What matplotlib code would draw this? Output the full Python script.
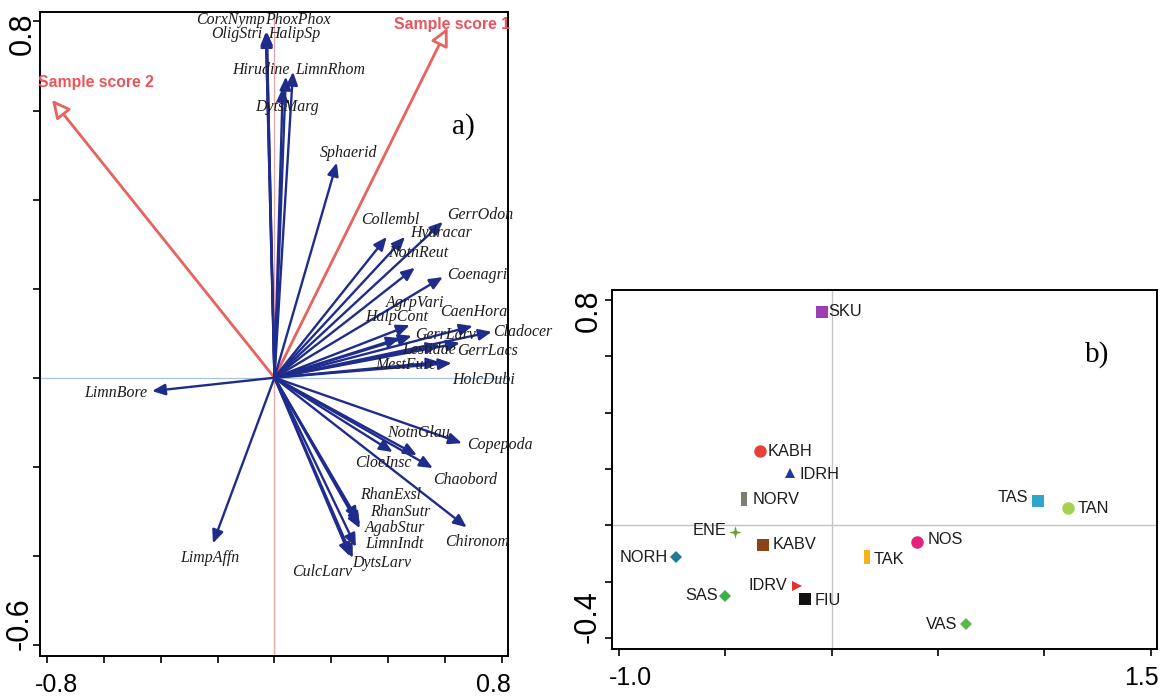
import matplotlib
matplotlib.use("Agg")
import matplotlib.pyplot as plt
from matplotlib.path import Path

# ---------------- data: panel a (species scores, sample-score axes) ----------------
species = ["CorxNymp", "PhoxPhox", "OligStri", "HalipSp", "Hirudine", "LimnRhom",
           "DytsMarg", "Sphaerid", "Collembl", "Hydracar", "GerrOdon", "NotnReut",
           "Coenagri", "AgrpVari", "HalpCont", "GerrLarv", "CaenHora", "Cladocer",
           "Lestidae", "GerrLacs", "MestFurc", "HolcDubi", "LimnBore", "LimpAffn",
           "Copepoda", "NotnGlau", "CloeInsc", "Chaobord", "Chironom", "RhanExsl",
           "RhanSutr", "AgabStur", "LimnIndt", "DytsLarv", "CulcLarv"]
axis1 = [-0.030, -0.027, -0.030, -0.027, 0.040, 0.065,
         0.029, 0.219, 0.394, 0.458, 0.591, 0.493,
         0.591, 0.475, 0.440, 0.482, 0.696, 0.763,
         0.580, 0.651, 0.580, 0.622, -0.430, -0.216,
         0.658, 0.500, 0.415, 0.556, 0.675, 0.293,
         0.300, 0.300, 0.286, 0.275, 0.265]
axis2 = [0.777, 0.777, 0.772, 0.772, 0.676, 0.687,
         0.651, 0.483, 0.316, 0.316, 0.350, 0.247,
         0.226, 0.118, 0.089, 0.094, 0.116, 0.103,
         0.073, 0.078, 0.035, 0.033, -0.030, -0.372,
         -0.147, -0.174, -0.167, -0.203, -0.336, -0.320,
         -0.331, -0.338, -0.380, -0.405, -0.401]

score_names = ["Sample score 1", "Sample score 2"]
score_x = [0.608, -0.781]
score_y = [0.786, 0.624]

# ---------------- data: panel b (site scores) ----------------
sites = ["SKU", "KABH", "IDRH", "NORV", "ENE", "KABV", "NORH", "SAS",
         "IDRV", "FIU", "TAK", "NOS", "TAS", "TAN", "VAS"]
site_x = [-0.047, -0.337, -0.196, -0.411, -0.455, -0.324, -0.732, -0.502,
          -0.165, -0.126, 0.165, 0.402, 0.971, 1.112, 0.631]
site_y = [0.758, 0.264, 0.186, 0.093, -0.022, -0.069, -0.113, -0.250,
          -0.215, -0.262, -0.113, -0.057, 0.088, 0.061, -0.350]

# ---------------- label placement (pixel offsets from arrow tip / marker) ----------------
species_label_offset = {
    "CorxNymp": (-1, 12, "right"), "PhoxPhox": (-2, 12, "left"),
    "OligStri": (-4, 0, "right"), "HalipSp": (1, 0, "left"),
    "Hirudine": (4, 7, "right"), "LimnRhom": (2, 2, "left"),
    "DytsMarg": (4, -19, "center"), "Sphaerid": (12, 10, "center"),
    "Collembl": (4, 17, "center"), "Hydracar": (5, 4, "left"),
    "GerrOdon": (4, 7, "left"), "NotnReut": (3, 15, "center"),
    "Coenagri": (4, 2, "left"), "AgrpVari": (5, 22, "center"),
    "HalpCont": (-3, 21, "center"), "GerrLarv": (3, 1, "left"),
    "CaenHora": (1, 14, "center"), "Cladocer": (1, 0, "left"),
    "Lestidae": (-11, -5, "center"), "GerrLacs": (-3, -8, "left"),
    "MestFurc": (-3, -3, "right"), "HolcDubi": (1, -17, "left"),
    "LimnBore": (-5, -2, "right"), "LimpAffn": (-3, -15, "center"),
    "Copepoda": (5, -2, "left"), "NotnGlau": (2, 22, "center"),
    "CloeInsc": (-9, -11, "center"), "Chaobord": (0, -12, "left"),
    "Chironom": (10, -15, "center"), "RhanExsl": (2, 25, "left"),
    "RhanSutr": (10, 13, "left"), "AgabStur": (5, 0, "left"),
    "LimnIndt": (9, 3, "left"), "DytsLarv": (-1, -5, "left"),
    "CulcLarv": (2, -16, "right"),
}
score_label_offset = [(4, 3), (44, 17)]

site_label_offset = {
    "SKU": (7, 0, "left"), "KABH": (8, 0, "left"), "IDRH": (10, -1, "left"),
    "NORV": (8, 0, "left"), "ENE": (-8, 1, "right"), "KABV": (10, 0, "left"),
    "NORH": (-8, 0, "right"), "SAS": (-7, 0, "right"), "IDRV": (-9, 1, "right"),
    "FIU": (10, -1, "left"), "TAK": (7, -2, "left"), "NOS": (10, 2, "left"),
    "TAS": (-10, 3, "right"), "TAN": (9, 0, "left"), "VAS": (-9, 0, "right"),
}

# marker shapes for the sites
bar = Path([(-0.2, -0.5), (0.2, -0.5), (0.2, 0.5), (-0.2, 0.5), (-0.2, -0.5)])
star4 = Path([(0, 1), (0.22, 0.22), (1, 0), (0.22, -0.22), (0, -1),
              (-0.22, -0.22), (-1, 0), (-0.22, 0.22), (0, 1)])
site_style = {
    "SKU": ("s", "#9b3db3", 8), "KABH": ("o", "#e8403a", 9),
    "IDRH": ("^", "#1f3b95", 7.5), "NORV": (bar, "#7d7d72", 10),
    "ENE": (star4, "#6b9a3a", 9), "KABV": ("s", "#8b4318", 8),
    "NORH": ("D", "#1f7a94", 6.2), "SAS": ("D", "#39b04a", 6.2),
    "IDRV": (">", "#e8302f", 7.5), "FIU": ("s", "#111111", 8),
    "TAK": (bar, "#f5b21b", 10), "NOS": ("o", "#e8207a", 9),
    "TAS": ("s", "#2ea6cc", 8), "TAN": ("o", "#a8d14a", 9),
    "VAS": ("D", "#5cb84a", 6.2),
}

W, H = 1167, 698
fig = plt.figure(figsize=(W / 100, H / 100), dpi=100)
fig.patch.set_facecolor("white")

tick_font = ["Liberation Sans", "DejaVu Sans"]
serif_font = ["Liberation Serif", "DejaVu Serif"]

ax_a = fig.add_axes([39.5 / W, 42 / H, 468.5 / W, 644.3 / H])
ax_b = fig.add_axes([611.7 / W, 48.7 / H, 545 / W, 359.3 / H])


def style_axes(ax, xticks, yticks):
    ax.set_xticks(xticks)
    ax.set_yticks(yticks)
    ax.tick_params(direction="out", length=5, width=1.2, color="black",
                   labelbottom=False, labelleft=False)
    for s in ax.spines.values():
        s.set_linewidth(1.4)
        s.set_color("black")


def x_end_label(ax, text, val, shift):
    ax.annotate(text, xy=(val, 0), xycoords=("data", "axes fraction"),
                xytext=(shift, -29), textcoords="offset pixels",
                ha="center", va="center", fontsize=18, family=tick_font)


def y_end_label(ax, text, val, dx, shift):
    ax.annotate(text, xy=(0, val), xycoords=("axes fraction", "data"),
                xytext=(dx, shift), textcoords="offset pixels", rotation=90,
                ha="center", va="center", fontsize=22, family=tick_font)


# ---------------- panel a ----------------
ax_a.set_xlim(-0.825, 0.82)
ax_a.set_ylim(-0.625, 0.822)
style_axes(ax_a, [-0.8, -0.6, -0.4, -0.2, 0.0, 0.2, 0.4, 0.6, 0.8],
           [-0.6, -0.4, -0.2, 0.0, 0.2, 0.4, 0.6, 0.8])
ax_a.axvline(0, color="#eaa3a3", lw=0.9, zorder=1)
ax_a.axhline(0, color="#a9c4df", lw=0.9, zorder=1)

for name, sx, sy, (dx, dy) in zip(score_names, score_x, score_y, score_label_offset):
    ax_a.annotate("", xy=(sx, sy), xytext=(0, 0),
                  arrowprops=dict(arrowstyle="-|>,head_length=0.9,head_width=0.45",
                                  mutation_scale=12, lw=2, ec="#e8625f", fc="white",
                                  shrinkA=0, shrinkB=0), zorder=2)
    ax_a.annotate(name, xy=(sx, sy), xytext=(dx, dy), textcoords="offset pixels",
                  ha="center", va="center", fontsize=11.3, fontweight="bold",
                  color="#e8555a", family=tick_font, zorder=5)

for name, sx, sy in zip(species, axis1, axis2):
    ax_a.annotate("", xy=(sx, sy), xytext=(0, 0),
                  arrowprops=dict(arrowstyle="-|>,head_length=0.65,head_width=0.28",
                                  mutation_scale=12, lw=1.7, ec="#202c8c", fc="#202c8c",
                                  shrinkA=0, shrinkB=0), zorder=3)
    dx, dy, ha = species_label_offset[name]
    ax_a.annotate(name, xy=(sx, sy), xytext=(dx, dy), textcoords="offset pixels",
                  ha=ha, va="center", fontsize=11.4, style="italic",
                  color="#1c1c1c", family=serif_font, zorder=4)

x_end_label(ax_a, "-0.8", -0.8, 10)
x_end_label(ax_a, "0.8", 0.8, -8.5)
y_end_label(ax_a, "0.8", 0.8, -17, -12)
y_end_label(ax_a, "-0.6", -0.6, -20, 21)
fig.text(463 / W, 1 - 127 / H, "a)", ha="center", va="center", fontsize=21,
         family=serif_font)

# ---------------- panel b ----------------
ax_b.set_xlim(-1.034, 1.528)
ax_b.set_ylim(-0.439, 0.835)
style_axes(ax_b, [-1.0, -0.5, 0.0, 0.5, 1.0, 1.5],
           [-0.4, -0.2, 0.0, 0.2, 0.4, 0.6, 0.8])
ax_b.axvline(0, color="#c4c4c4", lw=1, zorder=1)
ax_b.axhline(0, color="#c4c4c4", lw=1, zorder=1)

for name, sx, sy in zip(sites, site_x, site_y):
    marker, color, ms = site_style[name]
    ax_b.plot(sx, sy, linestyle="none", marker=marker, markersize=ms,
              color=color, markeredgewidth=0, zorder=3)
    dx, dy, ha = site_label_offset[name]
    ax_b.annotate(name, xy=(sx, sy), xytext=(dx, dy), textcoords="offset pixels",
                  ha=ha, va="center", fontsize=11.8, color="#1c1c1c",
                  family=tick_font, zorder=4)

x_end_label(ax_b, "-1.0", -1.0, 12)
x_end_label(ax_b, "1.5", 1.5, -9)
y_end_label(ax_b, "0.8", 0.8, -23, -11)
y_end_label(ax_b, "-0.4", -0.4, -24, 22)
fig.text(1097 / W, 1 - 355 / H, "b)", ha="center", va="center", fontsize=21,
         family=serif_font)

fig.savefig("out.png", dpi=100, facecolor="white")
